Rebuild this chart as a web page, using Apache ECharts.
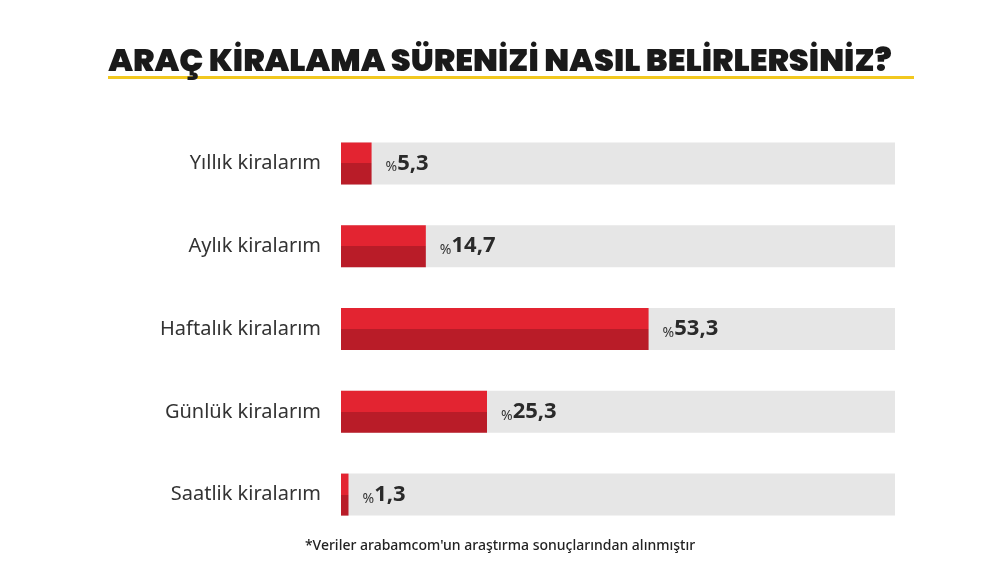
<!DOCTYPE html>
<html><head><meta charset="utf-8">
<script src="https://cdn.jsdelivr.net/npm/echarts@6/dist/echarts.min.js"></script>
<style>html,body{margin:0;padding:0;background:#fff}#c{width:1000px;height:584px}</style>
</head><body><div id="c"></div>
<script>
const categories = ['Yıllık kiralarım','Aylık kiralarım','Haftalık kiralarım','Günlük kiralarım','Saatlik kiralarım'];
const values = [5.3, 14.7, 53.3, 25.3, 1.3];
const axisMax = 96;
const chart = echarts.init(document.getElementById('c'));
const redGrad = new echarts.graphic.LinearGradient(0,0,0,1,[
  {offset:0,color:'#e32431'},{offset:0.5,color:'#e32431'},{offset:0.5,color:'#b91c28'},{offset:1,color:'#b91c28'}]);
chart.setOption({
  animation:false,
  title:{text:'ARAÇ KİRALAMA SÜRENİZİ NASIL BELİRLERSİNİZ?',left:'center',top:42,
    textStyle:{fontFamily:'Poppins, Montserrat, "Noto Sans"',fontWeight:900,fontSize:32,color:'#1a1a1a'}},
  graphic:[
    {type:'rect',z:-1,shape:{x:108,y:76,width:806,height:3},style:{fill:'#f2c81f'}},
    {type:'text',left:'center',top:539,style:{text:'*Veriler arabamcom\'un araştırma sonuçlarından alınmıştır',
      font:'500 14px "Noto Sans"',fill:'#222'}}
  ],
  grid:{left:341,right:105,top:122,bottom:48},
  xAxis:{type:'value',min:0,max:axisMax,show:false},
  yAxis:{type:'category',data:categories,inverse:true,axisLine:{show:false},axisTick:{show:false},
    axisLabel:{fontSize:20,color:'#333',margin:20,fontFamily:'"Noto Sans"'}},
  series:[
    {type:'bar',data:categories.map(()=>axisMax),barWidth:42,barGap:'-100%',silent:true,
      itemStyle:{color:'#e6e6e6'}},
    {type:'bar',data:values,barWidth:42,z:3,itemStyle:{color:redGrad},
      label:{show:true,position:'right',distance:14,
        formatter:p=>'{p|%}{v|'+String(p.value).replace('.',',')+'}',
        rich:{p:{fontSize:14,color:'#333',fontFamily:'"Noto Sans"',verticalAlign:'bottom',padding:[4,0,0,0]},
              v:{fontSize:22,fontWeight:'bold',color:'#2a2a2a',fontFamily:'"Noto Sans"'}}}}
  ]
});
</script></body></html>
